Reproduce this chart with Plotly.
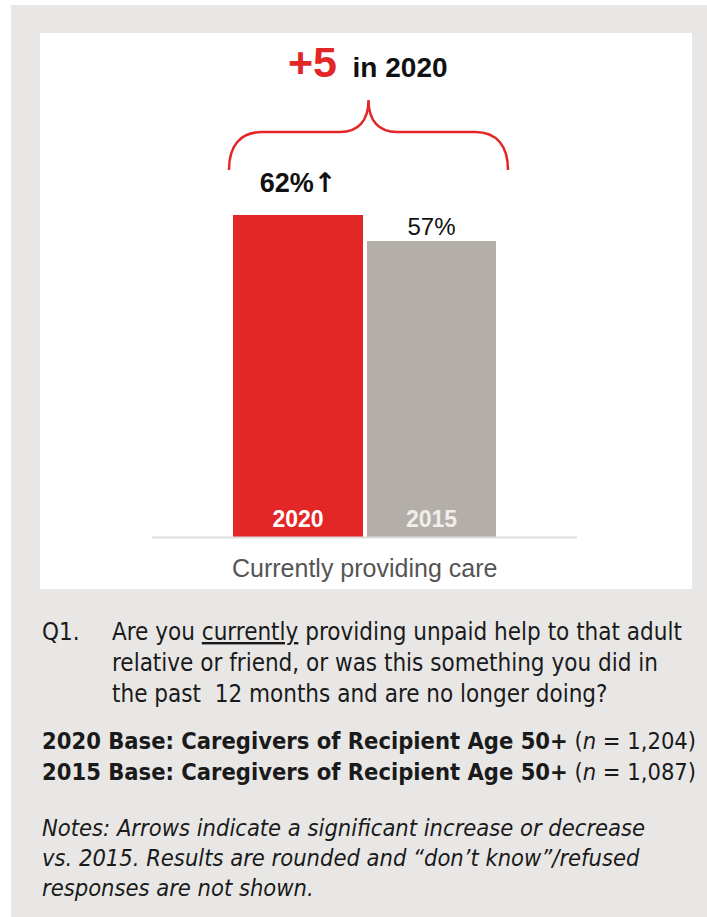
import plotly.graph_objects as go

# ---- data ----
categories = ["2020", "2015"]
values = [62, 57]
value_labels = ["<b>62%<span style='font-family:DejaVu Sans'>↑</span></b>", "57%"]
bar_colors = ["#e32726", "#b3afa8"]
year_label_colors = ["#ffffff", "#f0eeeb"]
group_label = "Currently providing care"

question_label = "Q1."
question_lines = [
    "Are you <span style='text-decoration:underline'>currently</span> providing unpaid help to that adult",
    "relative or friend, or was this something you did in",
    "the past  12 months and are no longer doing?",
]
base_lines = [
    "<b>2020 Base: Caregivers of Recipient Age 50+</b> (<i>n</i> = 1,204)",
    "<b>2015 Base: Caregivers of Recipient Age 50+</b> (<i>n</i> = 1,087)",
]
note_lines = [
    "<i>Notes: Arrows indicate a significant increase or decrease</i>",
    "<i>vs. 2015. Results are rounded and “don’t know”/refused</i>",
    "<i>responses are not shown.</i>",
]

W, H = 707, 917
RED = "#e32726"
PANEL_GRAY = "#e8e7e5"
CHART_FONT = "Liberation Sans, Arial, sans-serif"
TEXT_FONT = "DejaVu Sans Condensed, Liberation Sans Narrow, sans-serif"


def px(x):
    return x / W


def py(y):
    return 1 - y / H


fig = go.Figure()
fig.add_trace(go.Bar(
    x=categories, y=values, width=0.97,
    marker=dict(color=bar_colors, line=dict(width=0)),
    hoverinfo="skip", showlegend=False,
))
# value labels above the bars (transparent markers set the gap above the bar)
fig.add_trace(go.Scatter(
    x=categories, y=values, mode="markers+text", text=value_labels,
    textposition="top center", cliponaxis=False,
    marker=dict(size=[23, 0], opacity=0),
    textfont=dict(family=CHART_FONT, size=[27, 24], color="#111111"),
    hoverinfo="skip", showlegend=False,
))
# year labels inside the bars at the bottom
fig.add_trace(go.Scatter(
    x=categories, y=[0, 0], mode="markers+text", text=[f"<b>{c}</b>" for c in categories],
    textposition="top center", cliponaxis=False,
    marker=dict(size=0, opacity=0),
    textfont=dict(family=CHART_FONT, size=23, color=year_label_colors),
    hoverinfo="skip", showlegend=False,
))

shapes = []
shapes.append(dict(type="rect", xref="paper", yref="paper",
                   x0=px(11), x1=px(W), y0=py(H), y1=py(5),
                   fillcolor=PANEL_GRAY, line=dict(width=0), layer="below"))
shapes.append(dict(type="rect", xref="paper", yref="paper",
                   x0=px(40), x1=px(692), y0=py(589), y1=py(33),
                   fillcolor="#ffffff", line=dict(width=0), layer="below"))
shapes.append(dict(type="line", xref="paper", yref="paper",
                   x0=px(152), x1=px(577), y0=py(537.5), y1=py(537.5),
                   line=dict(color="#dcdcdc", width=2), layer="above"))


def P(x, y):
    return f"{px(x):.5f},{py(y):.5f}"


brace = (f"M {P(229,170)} C {P(229,146)} {P(240,132)} {P(262,132)} "
         f"L {P(340,132)} C {P(358,132)} {P(368.5,121)} {P(368.5,100)} "
         f"C {P(368.5,121)} {P(379,132)} {P(397,132)} "
         f"L {P(475,132)} C {P(497,132)} {P(508,146)} {P(508,170)}")
shapes.append(dict(type="path", xref="paper", yref="paper", path=brace,
                   line=dict(color=RED, width=2.5), fillcolor="rgba(0,0,0,0)"))

annotations = []
delta = values[0] - values[1]
annotations.append(dict(
    xref="paper", yref="paper", x=px(368), y=py(62), xanchor="center", yanchor="middle",
    text=f"<span style='color:{RED};font-size:43px'><b>+{delta}</b></span>  <b>in {categories[0]}</b>",
    showarrow=False, font=dict(family=CHART_FONT, size=28, color="#111111")))

annotations.append(dict(
    xref="paper", yref="paper", x=px(364), y=py(568), xanchor="center", yanchor="middle",
    text=group_label, showarrow=False,
    font=dict(family=CHART_FONT, size=25, color="#555555")))

TXT = "#1a1a1a"
annotations.append(dict(
    xref="paper", yref="paper", x=px(40), y=py(632), xanchor="left", yanchor="middle",
    text=question_label, showarrow=False, font=dict(family=TEXT_FONT, size=24, color=TXT)))
for k, line in enumerate(question_lines):
    annotations.append(dict(
        xref="paper", yref="paper", x=px(110), y=py(632 + 31 * k), xanchor="left", yanchor="middle",
        text=line, showarrow=False, font=dict(family=TEXT_FONT, size=24, color=TXT)))
for k, line in enumerate(base_lines):
    annotations.append(dict(
        xref="paper", yref="paper", x=px(40), y=py(741 + 31 * k), xanchor="left", yanchor="middle",
        text=line, showarrow=False, font=dict(family=TEXT_FONT, size=23.5, color=TXT)))
for k, line in enumerate(note_lines):
    annotations.append(dict(
        xref="paper", yref="paper", x=px(40), y=py(828 + 30 * k), xanchor="left", yanchor="middle",
        text=line, showarrow=False, font=dict(family=TEXT_FONT, size=23.5, color=TXT)))

ypp = 5.2
xpp = 133.5
fig.update_layout(
    width=W, height=H,
    margin=dict(l=0, r=0, t=0, b=0, pad=0),
    paper_bgcolor="#ffffff", plot_bgcolor="rgba(0,0,0,0)",
    xaxis=dict(range=[-298 / xpp, (W - 298) / xpp], showgrid=False, zeroline=False,
               showticklabels=False, ticks="", showline=False, fixedrange=True),
    yaxis=dict(range=[-(H - 537) / ypp, 537 / ypp], showgrid=False, zeroline=False,
               showticklabels=False, ticks="", showline=False, fixedrange=True),
    shapes=shapes, annotations=annotations,
    bargap=0, showlegend=False,
)

fig.write_html("out.html", config={"displayModeBar": False})
